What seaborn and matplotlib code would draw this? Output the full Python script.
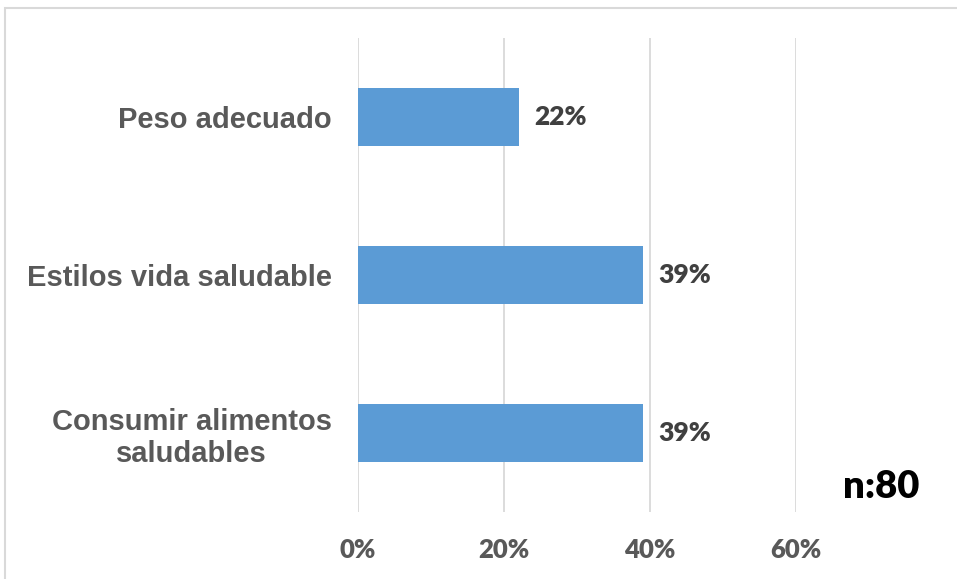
import matplotlib
matplotlib.use("Agg")
import matplotlib.pyplot as plt
import seaborn as sns
import pandas as pd
from matplotlib.patches import Rectangle
from matplotlib.ticker import FuncFormatter

categorias = ["Peso adecuado", "Estilos vida saludable", "Consumir alimentos\nsaludables"]
porcentajes = [0.22, 0.39, 0.39]
ticks_x = [0.0, 0.2, 0.4, 0.6]
nota_muestra = "n:80"

sns.set_theme(style="white")
plt.rcParams["font.family"] = ["Liberation Sans", "DejaVu Sans"]

df = pd.DataFrame({"categoria": categorias, "porcentaje": porcentajes})

fig = plt.figure(figsize=(9.57, 5.79), dpi=100)
ax = fig.add_axes([358 / 957, 1 - 512 / 579, (796 - 358) / 957, (512 - 38) / 579])

sns.barplot(data=df, x="porcentaje", y="categoria", orient="h", color="#5B9BD5",
            saturation=1, width=0.37, linewidth=0, ax=ax)

ax.set_xlim(0, 0.6)
ax.set_xticks(ticks_x)
ax.xaxis.set_major_formatter(FuncFormatter(lambda v, _: f"{v * 100:.0f}%"))
ax.grid(axis="x", color="#D9D9D9", linewidth=1.3)
ax.set_axisbelow(True)
for s in ax.spines.values():
    s.set_visible(False)
ax.set_xlabel("")
ax.set_ylabel("")
ax.tick_params(axis="both", length=0)
ax.tick_params(axis="x", pad=19)
ax.tick_params(axis="y", pad=19)

for lbl in ax.get_xticklabels():
    lbl.set_fontfamily(["Lato", "DejaVu Sans"])
    lbl.set_fontweight("heavy")
    lbl.set_fontsize(18.5)
    lbl.set_color("#595959")
for lbl in ax.get_yticklabels():
    lbl.set_fontweight("bold")
    lbl.set_fontsize(21)
    lbl.set_color("#595959")
    lbl.set_multialignment("center")

ax.bar_label(ax.containers[0], labels=[f"{v * 100:.0f}%" for v in porcentajes],
             padding=11, fontsize=19, fontweight="heavy", color="#404040",
             family=["Lato", "DejaVu Sans"])

fig.text(881 / 957, 1 - 487 / 579, nota_muestra, ha="center", va="center",
         fontsize=27.5, fontweight="heavy", color="black", family=["Lato", "DejaVu Sans"])

fig.patches.append(Rectangle((5 / 957, -0.1), 1.1, 1 - 8 / 579 + 0.1,
                             transform=fig.transFigure, fill=False,
                             edgecolor="#D9D9D9", linewidth=1.5))

fig.savefig("out.png", dpi=100)
